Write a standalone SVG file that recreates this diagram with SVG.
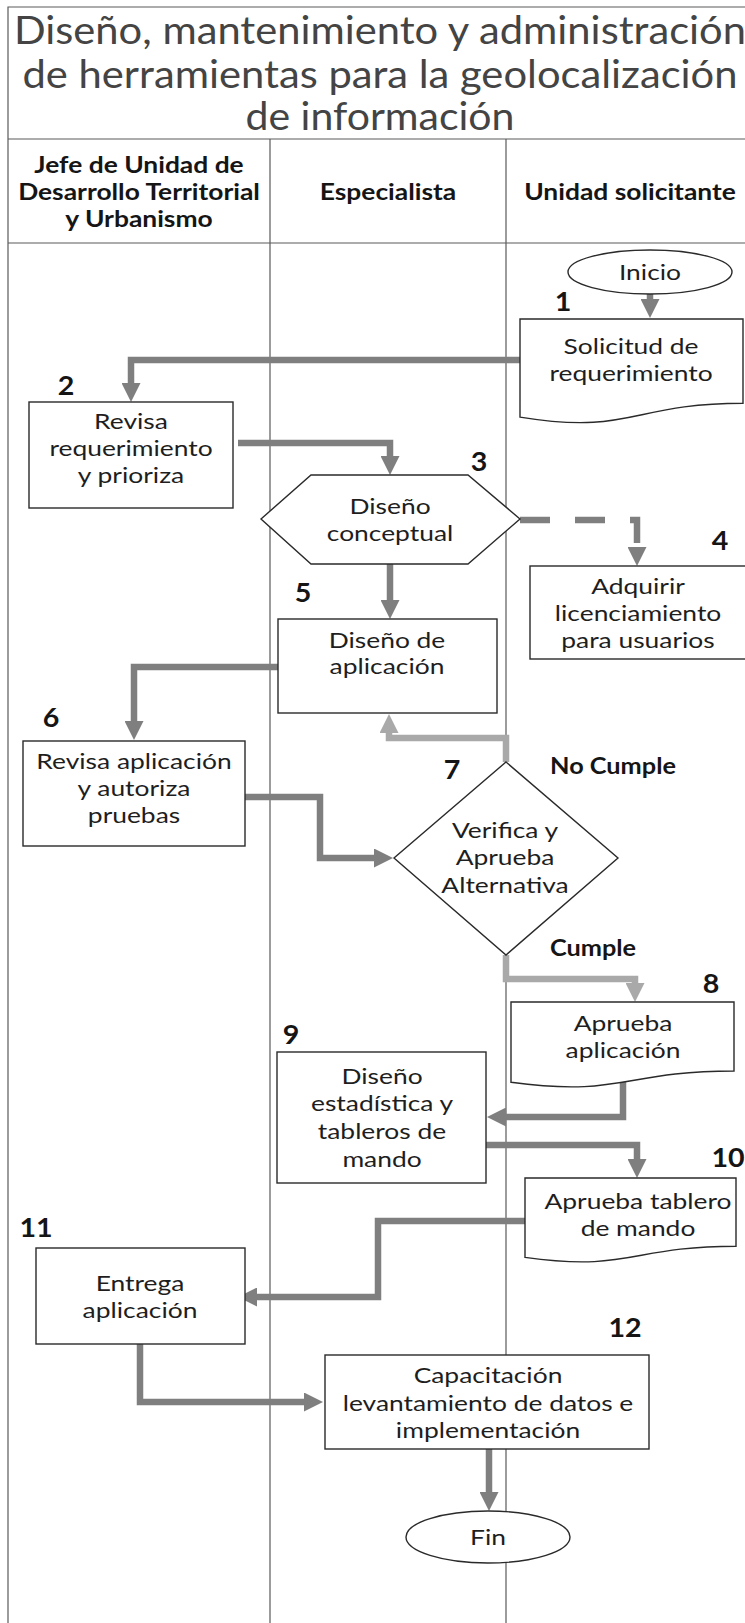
<svg xmlns="http://www.w3.org/2000/svg" width="745" height="1623" viewBox="0 0 745 1623">
<style>
.frame{fill:none;stroke:#5a5a5a;stroke-width:1.2}
.shape{fill:#fff;stroke:#2a2a2a;stroke-width:1.4}
.conn{fill:none;stroke:#7f7f7f;stroke-width:6.5;stroke-linejoin:miter}
.light{stroke:#a9a9a9}
.dash{stroke-dasharray:30 25}
text{font-family:Lato,"Liberation Sans",sans-serif}
.lbl{font-size:22px;fill:#1e1e1e;text-anchor:middle}
.hdr{font-size:22px;font-weight:bold;fill:#151515;text-anchor:middle}
.num{font-size:26px;font-weight:bold;fill:#151515;text-anchor:middle}
.title{font-size:38px;fill:#444;text-anchor:middle}
</style>
<defs>
<marker id="ah" markerUnits="userSpaceOnUse" viewBox="0 0 19 19" markerWidth="19" markerHeight="19" refX="1" refY="9.5" orient="auto"><path d="M0,0 L19,9.5 L0,19 Z" fill="#7f7f7f"/></marker>
<marker id="ahl" markerUnits="userSpaceOnUse" viewBox="0 0 19 19" markerWidth="19" markerHeight="19" refX="1" refY="9.5" orient="auto"><path d="M0,0 L19,9.5 L0,19 Z" fill="#a9a9a9"/></marker>
</defs>
<rect width="745" height="1623" fill="#fff"/>

<g id="frame">
<path class="frame" d="M8,1623 V7 H752 V1623 M8,139 H752 M8,243 H752 M270,139 V1623 M506,139 V1623"/>
<text class="title" x="380" y="44" textLength="732" lengthAdjust="spacingAndGlyphs">Diseño, mantenimiento y administración</text>
<text class="title" x="380" y="88" textLength="715" lengthAdjust="spacingAndGlyphs">de herramientas para la geolocalización</text>
<text class="title" x="380" y="130" textLength="269" lengthAdjust="spacingAndGlyphs">de información</text>
<g transform="translate(139,0) scale(1.2,1)">
<text class="hdr" x="0" y="173">Jefe de Unidad de</text>
<text class="hdr" x="0" y="200">Desarrollo Territorial</text>
<text class="hdr" x="0" y="227">y Urbanismo</text>
</g>
<g transform="translate(388,0) scale(1.2,1)"><text class="hdr" x="0" y="200">Especialista</text></g>
<g transform="translate(630,0) scale(1.2,1)"><text class="hdr" x="0" y="200">Unidad solicitante</text></g>
</g>

<g id="connectors">
<path class="conn" marker-end="url(#ah)" d="M650,294 V300"/>
<path class="conn" marker-end="url(#ah)" d="M520,360 H131 V384"/>
<path class="conn" marker-end="url(#ah)" d="M238,443 H390 V457"/>
<path class="conn dash" marker-end="url(#ah)" d="M520,520 H637 V548"/>
<path class="conn" marker-end="url(#ah)" d="M390,564 V601"/>
<path class="conn" marker-end="url(#ah)" d="M278,667 H134 V722"/>
<path class="conn" marker-end="url(#ah)" d="M245,797 H320 V858 H375"/>
<path class="conn light" marker-end="url(#ahl)" d="M506,762 V738 H389 V732"/>
<path class="conn light" marker-end="url(#ahl)" d="M506,955 V979 H635 V984"/>
<path class="conn" marker-end="url(#ah)" d="M623,1078 V1117 H505"/>
<path class="conn" marker-end="url(#ah)" d="M486,1145 H637 V1160"/>
<path class="conn" marker-end="url(#ah)" d="M525,1221 H378 V1297 H256"/>
<path class="conn" marker-end="url(#ah)" d="M140,1344 V1402 H305"/>
<path class="conn" marker-end="url(#ah)" d="M489,1449 V1493"/>
<g transform="translate(613,0) scale(1.15,1)"><text class="hdr" x="0" y="774">No Cumple</text></g>
<g transform="translate(593,0) scale(1.15,1)"><text class="hdr" x="0" y="956">Cumple</text></g>
</g>

<g id="inicio">
<ellipse class="shape" cx="650" cy="272" rx="82" ry="22"/>
<g transform="translate(650,0) scale(1.2,1)"><text class="lbl" x="0" y="280">Inicio</text></g>
</g>

<g id="n1">
<path class="shape" d="M520,319 H743 V403.2 C631.5,403.2 631.5,435.2 520,417.1 Z"/>
<g transform="translate(631,0) scale(1.2,1)">
<text class="lbl" x="0" y="354">Solicitud de</text>
<text class="lbl" x="0" y="381">requerimiento</text>
</g>
<g transform="translate(563,0) scale(1.1,1)"><text class="num" x="0" y="311">1</text></g>
</g>

<g id="n2">
<rect class="shape" x="29" y="402" width="204" height="106"/>
<g transform="translate(131,0) scale(1.2,1)">
<text class="lbl" x="0" y="429">Revisa</text>
<text class="lbl" x="0" y="456">requerimiento</text>
<text class="lbl" x="0" y="483">y prioriza</text>
</g>
<g transform="translate(66,0) scale(1.1,1)"><text class="num" x="0" y="395">2</text></g>
</g>

<g id="n3">
<polygon class="shape" points="261,519 311,475 468,475 520,519 468,564 311,564"/>
<g transform="translate(390,0) scale(1.2,1)">
<text class="lbl" x="0" y="514">Diseño</text>
<text class="lbl" x="0" y="541">conceptual</text>
</g>
<g transform="translate(479,0) scale(1.1,1)"><text class="num" x="0" y="471">3</text></g>
</g>

<g id="n4">
<rect class="shape" x="530" y="566" width="216" height="93"/>
<g transform="translate(638,0) scale(1.2,1)">
<text class="lbl" x="0" y="594">Adquirir</text>
<text class="lbl" x="0" y="621">licenciamiento</text>
<text class="lbl" x="0" y="648">para usuarios</text>
</g>
<g transform="translate(720,0) scale(1.1,1)"><text class="num" x="0" y="550">4</text></g>
</g>

<g id="n5">
<rect class="shape" x="278" y="619" width="219" height="94"/>
<g transform="translate(387,0) scale(1.2,1)">
<text class="lbl" x="0" y="648">Diseño de</text>
<text class="lbl" x="0" y="674">aplicación</text>
</g>
<g transform="translate(303,0) scale(1.1,1)"><text class="num" x="0" y="602">5</text></g>
</g>

<g id="n6">
<rect class="shape" x="23" y="741" width="222" height="105"/>
<g transform="translate(134,0) scale(1.2,1)">
<text class="lbl" x="0" y="769">Revisa aplicación</text>
<text class="lbl" x="0" y="796">y autoriza</text>
<text class="lbl" x="0" y="823">pruebas</text>
</g>
<g transform="translate(51,0) scale(1.1,1)"><text class="num" x="0" y="727">6</text></g>
</g>

<g id="n7">
<polygon class="shape" points="506,762 618,858 506,955 394,858"/>
<g transform="translate(505,0) scale(1.2,1)">
<text class="lbl" x="0" y="838">Verifica y</text>
<text class="lbl" x="0" y="865">Aprueba</text>
<text class="lbl" x="0" y="893">Alternativa</text>
</g>
<g transform="translate(452,0) scale(1.1,1)"><text class="num" x="0" y="779">7</text></g>
</g>

<g id="n8">
<path class="shape" d="M511,1002 H734 V1071 C622.5,1071 622.5,1097.2 511,1082.3 Z"/>
<g transform="translate(623,0) scale(1.2,1)">
<text class="lbl" x="0" y="1031">Aprueba</text>
<text class="lbl" x="0" y="1058">aplicación</text>
</g>
<g transform="translate(711,0) scale(1.1,1)"><text class="num" x="0" y="993">8</text></g>
</g>

<g id="n9">
<rect class="shape" x="277" y="1052" width="209" height="131"/>
<g transform="translate(382,0) scale(1.2,1)">
<text class="lbl" x="0" y="1084">Diseño</text>
<text class="lbl" x="0" y="1111">estadística y</text>
<text class="lbl" x="0" y="1139">tableros de</text>
<text class="lbl" x="0" y="1167">mando</text>
</g>
<g transform="translate(291,0) scale(1.1,1)"><text class="num" x="0" y="1044">9</text></g>
</g>

<g id="n10">
<path class="shape" d="M525,1178 H736 V1246.2 C630.5,1246.2 630.5,1272.1 525,1257.4 Z"/>
<g transform="translate(638,0) scale(1.2,1)">
<text class="lbl" x="0" y="1209">Aprueba tablero</text>
<text class="lbl" x="0" y="1236">de mando</text>
</g>
<g transform="translate(728,0) scale(1.1,1)"><text class="num" x="0" y="1167">10</text></g>
</g>

<g id="n11">
<rect class="shape" x="36" y="1248" width="209" height="96"/>
<g transform="translate(140,0) scale(1.2,1)">
<text class="lbl" x="0" y="1291">Entrega</text>
<text class="lbl" x="0" y="1318">aplicación</text>
</g>
<g transform="translate(36,0) scale(1.1,1)"><text class="num" x="0" y="1237">11</text></g>
</g>

<g id="n12">
<rect class="shape" x="325" y="1355" width="324" height="94"/>
<g transform="translate(488,0) scale(1.2,1)">
<text class="lbl" x="0" y="1383">Capacitación</text>
<text class="lbl" x="0" y="1411">levantamiento de datos e</text>
<text class="lbl" x="0" y="1438">implementación</text>
</g>
<g transform="translate(625,0) scale(1.1,1)"><text class="num" x="0" y="1337">12</text></g>
</g>

<g id="fin">
<ellipse class="shape" cx="488" cy="1537" rx="82" ry="26"/>
<g transform="translate(488,0) scale(1.2,1)"><text class="lbl" x="0" y="1545">Fin</text></g>
</g>
</svg>
